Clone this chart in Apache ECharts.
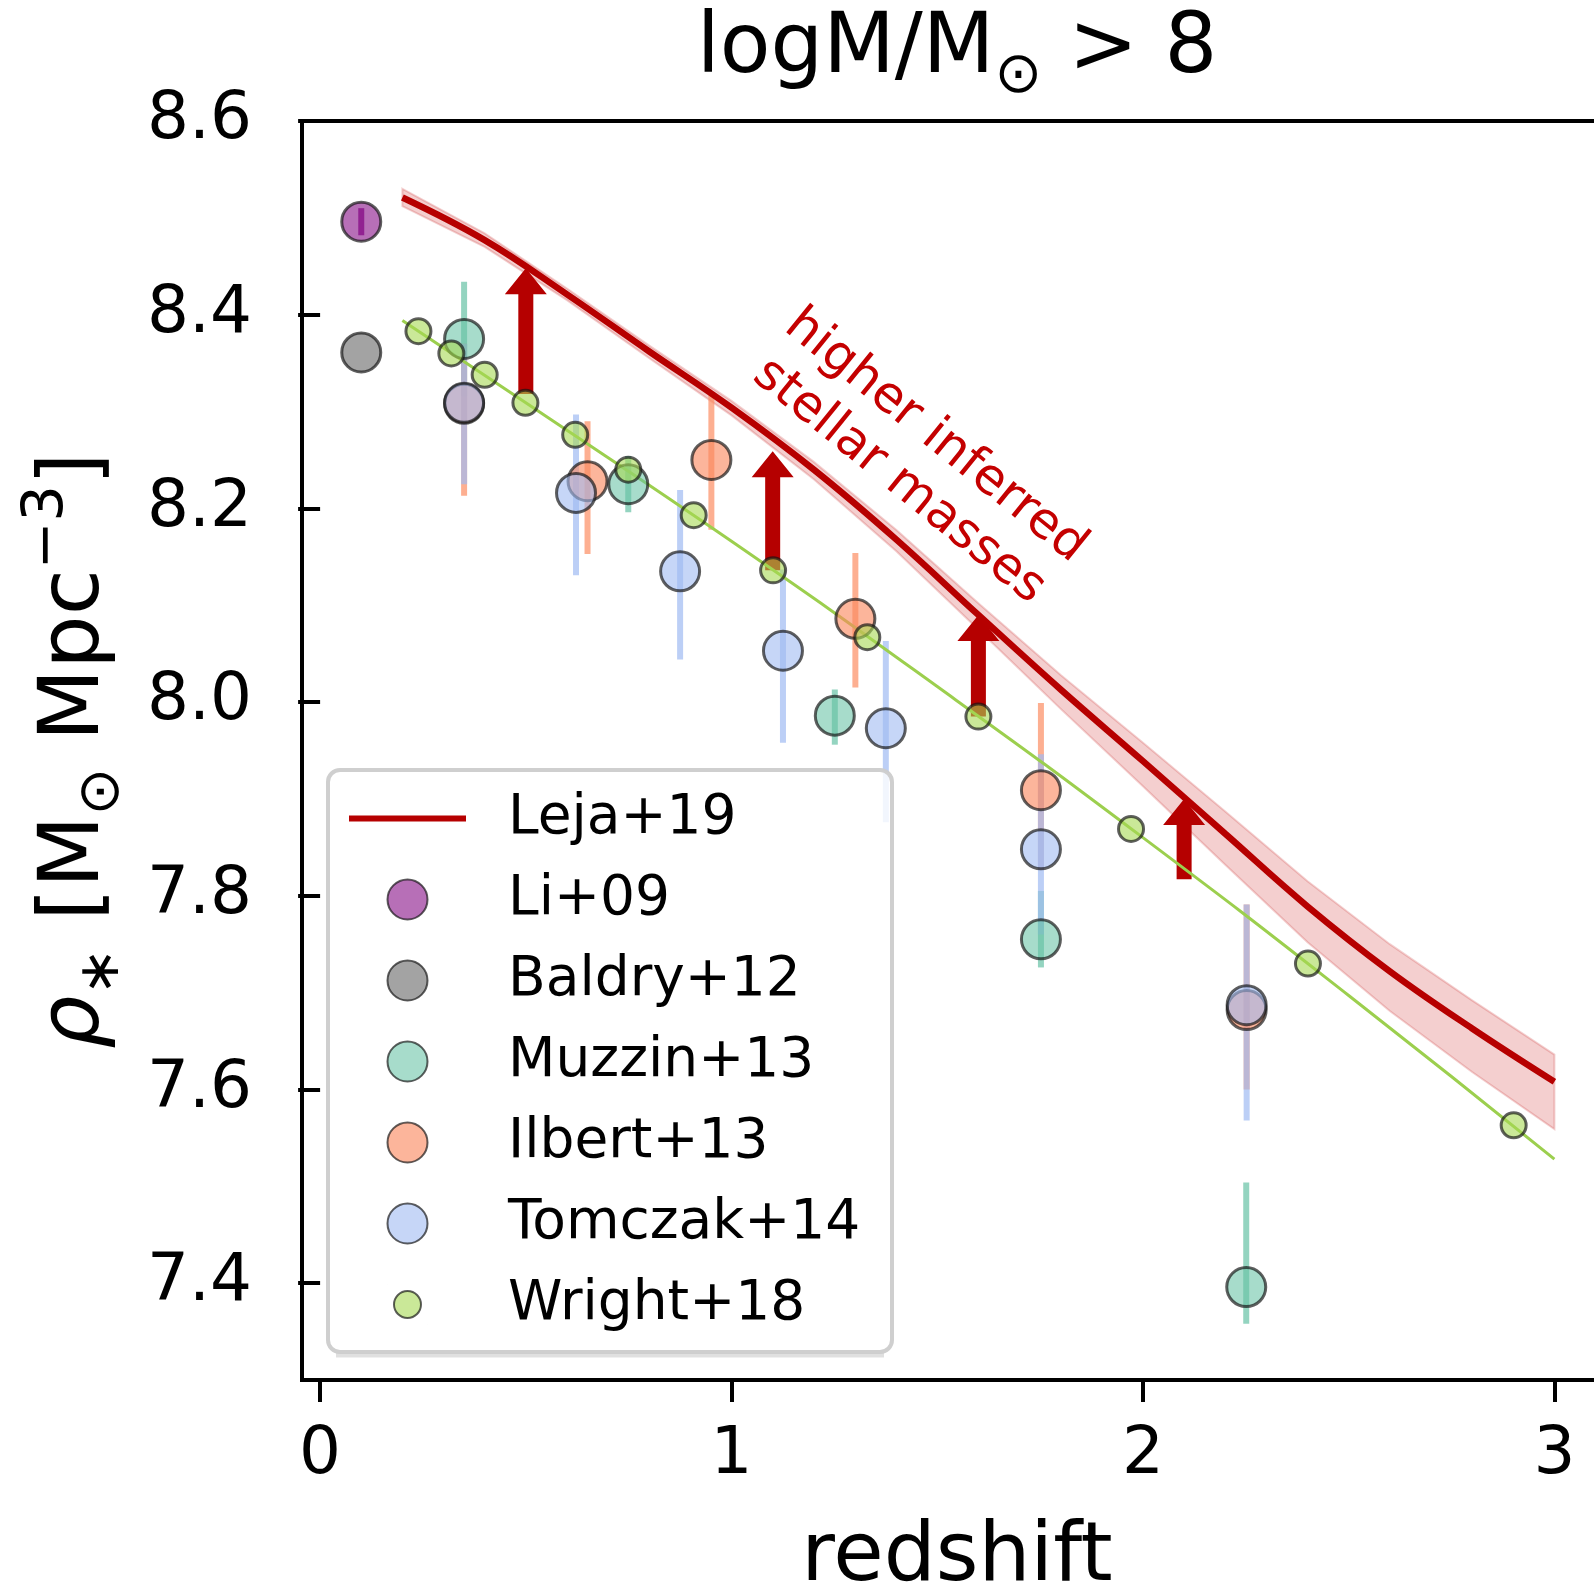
<!DOCTYPE html>
<html><head><meta charset="utf-8">
<script src="https://cdn.jsdelivr.net/npm/echarts@6/dist/echarts.min.js"></script>
<style>html,body{margin:0;padding:0;background:#fff}#c{width:1594px;height:1590px}</style>
</head><body><div id="c"></div>
<script>
// ---------- data ----------
const X_TICKS = [0, 1, 2, 3];
const Y_TICKS = [7.4, 7.6, 7.8, 8.0, 8.2, 8.4, 8.6];

const lejaX  = [0.2, 0.4, 0.6, 0.8, 1.0, 1.2, 1.4, 1.6, 1.8, 2.0, 2.2, 2.4, 2.6, 2.8, 3.0];
const lejaY  = [8.521, 8.477, 8.421, 8.362, 8.304, 8.240, 8.168, 8.090, 8.013, 7.939, 7.864, 7.789, 7.722, 7.663, 7.608];
const lejaHi = [8.530, 8.484, 8.427, 8.368, 8.311, 8.248, 8.178, 8.102, 8.028, 7.958, 7.887, 7.815, 7.750, 7.692, 7.636];
const lejaLo = [8.512, 8.470, 8.415, 8.355, 8.296, 8.230, 8.156, 8.075, 7.993, 7.913, 7.832, 7.752, 7.681, 7.618, 7.559];

const wrightFitX = [0.2, 0.5, 1.0, 1.5, 2.0, 2.5, 3.0];
const wrightFitY = [8.394, 8.309, 8.166, 8.016, 7.860, 7.697, 7.528];

const liX = [0.1], liY = [8.496], liLo = [8.482], liHi = [8.510];
const baldryX = [0.1], baldryY = [8.361];

const muzzinX  = [0.35, 0.749, 1.251, 1.752, 2.251];
const muzzinY  = [8.375, 8.225, 7.986, 7.755, 7.396];
const muzzinLo = [8.316, 8.196, 7.956, 7.726, 7.358];
const muzzinHi = [8.434, 8.254, 8.013, 7.805, 7.504];

const ilbertX  = [0.35, 0.650, 0.951, 1.301, 1.752, 2.252];
const ilbertY  = [8.308, 8.228, 8.250, 8.086, 7.909, 7.682];
const ilbertLo = [8.213, 8.153, 8.178, 8.015, 7.827, 7.600];
const ilbertHi = [8.370, 8.290, 8.317, 8.154, 7.999, 7.791];

const tomczakX  = [0.35, 0.622, 0.875, 1.125, 1.375, 1.752, 2.252];
const tomczakY  = [8.309, 8.216, 8.135, 8.053, 7.973, 7.848, 7.687];
const tomczakLo = [8.225, 8.131, 8.044, 7.958, 7.876, 7.760, 7.568];
const tomczakHi = [8.370, 8.297, 8.219, 8.137, 8.063, 7.946, 7.791];

const wrightX = [0.239, 0.319, 0.400, 0.499, 0.620, 0.749, 0.908, 1.101, 1.330, 1.600, 1.971, 2.401, 2.901];
const wrightY = [8.383, 8.360, 8.338, 8.309, 8.276, 8.240, 8.193, 8.136, 8.067, 7.985, 7.869, 7.730, 7.563];

const arrowX    = [0.5, 1.1, 1.6, 2.1];
const arrowFrom = [8.318, 8.136, 7.985, 7.817];
const arrowTo   = [8.448, 8.259, 8.090, 7.900];

const legendNames = ['Leja+19', 'Li+09', 'Baldry+12', 'Muzzin+13', 'Ilbert+13', 'Tomczak+14', 'Wright+18'];
const annotText = 'higher inferred\nstellar masses';
const annotAt = [1.451, 8.251];

// ---------- helpers ----------
const FONT = 'DejaVu Sans';
const zip2 = (a, b) => a.map((v, i) => [v, b[i]]);
const zip3 = (a, b, c) => a.map((v, i) => [v, b[i], c[i]]);
const EDGE = 'rgba(20,20,20,0.85)';

function errRender(color) {
  return function (params, api) {
    const p0 = api.coord([api.value(0), api.value(1)]);
    const p1 = api.coord([api.value(0), api.value(2)]);
    return { type: 'line', shape: { x1: p0[0], y1: p0[1], x2: p1[0], y2: p1[1] },
             style: { stroke: color, lineWidth: 6 } };
  };
}
function errSeries(name, xs, lo, hi, color) {
  return { type: 'custom', name: name, data: zip3(xs, lo, hi), encode: { x: 0, y: [1, 2] },
           renderItem: errRender(color), silent: true, z: 2 };
}
function scatterSeries(name, xs, ys, fill, size) {
  return { type: 'scatter', name: name, data: zip2(xs, ys), symbol: 'circle', symbolSize: size,
           itemStyle: { color: fill, borderColor: EDGE, borderWidth: 3 }, silent: true, z: 2 };
}

const legendData = legendNames.map(n => {
  if (n === 'Leja+19') return { name: n, icon: 'path://M0,0L117,0L117,6L0,6Z', itemStyle: { borderWidth: 0 } };
  if (n === 'Wright+18') return { name: n,
    icon: 'path://M0,0L0.01,0M40,40L40.01,40M33.5,20A13.5,13.5,0,1,1,6.5,20A13.5,13.5,0,1,1,33.5,20Z' };
  return { name: n };
});

const chart = echarts.init(document.getElementById('c'));

const option = {
  animation: false,
  backgroundColor: '#fff',
  grid: { left: 302, top: 121, width: 1310, height: 1259, show: true, borderColor: '#000',
          borderWidth: 4, backgroundColor: 'transparent', outerBoundsMode: 'none', containLabel: false },
  xAxis: {
    type: 'value', min: -0.044, max: 3.14,
    axisLine: { show: false }, splitLine: { show: false },
    axisTick: { show: true, length: 22, lineStyle: { color: '#000', width: 4 }, customValues: X_TICKS },
    axisLabel: { customValues: X_TICKS, fontSize: 66, fontFamily: FONT, color: '#000', margin: 76,
                 verticalAlign: 'middle', lineHeight: 66 },
    name: 'redshift', nameLocation: 'middle', nameGap: 179,
    nameTextStyle: { fontSize: 82, fontFamily: FONT, color: '#000', verticalAlign: 'middle', lineHeight: 82 }
  },
  yAxis: {
    type: 'value', min: 7.3, max: 8.6,
    axisLine: { show: false }, splitLine: { show: false },
    axisTick: { show: true, length: 22, lineStyle: { color: '#000', width: 4 }, customValues: Y_TICKS },
    axisLabel: { customValues: Y_TICKS, fontSize: 66, fontFamily: FONT, color: '#000', margin: 50,
                 formatter: v => v.toFixed(1) },
    name: '{i|ρ}{s|∗}{n| [M}{s|⊙}{n| Mpc}{p|−3}{n|]}',
    nameLocation: 'middle', nameRotate: 90, nameGap: 226,
    nameTextStyle: {
      align: 'center', verticalAlign: 'middle', color: '#000', fontFamily: FONT, fontSize: 84,
      rich: {
        n: { fontSize: 84, fontFamily: FONT, color: '#000', lineHeight: 112, verticalAlign: 'middle' },
        i: { fontSize: 84, fontFamily: FONT, color: '#000', fontStyle: 'italic', lineHeight: 112, verticalAlign: 'middle' },
        s: { fontSize: 57, fontFamily: FONT, color: '#000', lineHeight: 57, verticalAlign: 'bottom' },
        p: { fontSize: 57, fontFamily: FONT, color: '#000', lineHeight: 57, verticalAlign: 'top' }
      }
    }
  },
  legend: {
    data: legendData,
    orient: 'vertical', left: 344, top: 786, itemWidth: 117, itemHeight: 40, itemGap: 26,
    selectedMode: false, z: 5, padding: 5,
    formatter: '{t|{name}}',
    textStyle: { fontSize: 55, fontFamily: FONT, color: '#000',
      rich: { t: { fontSize: 55, fontFamily: FONT, color: '#000', padding: [0, 0, 0, 37] } } }
  },
  series: [
    { type: 'custom', name: 'Leja+19 band', data: zip3(lejaX, lejaLo, lejaHi), encode: { x: 0, y: [1, 2] },
      silent: true, z: 2,
      renderItem: function (params, api) {
        if (params.dataIndex !== 0) return null;
        const pts = [];
        for (let i = 0; i < lejaX.length; i++) pts.push(api.coord([lejaX[i], lejaHi[i]]));
        for (let i = lejaX.length - 1; i >= 0; i--) pts.push(api.coord([lejaX[i], lejaLo[i]]));
        return { type: 'polygon', shape: { points: pts },
                 style: { fill: 'rgba(214,70,70,0.26)', stroke: 'rgba(200,40,40,0.22)', lineWidth: 2 } };
      } },
    { type: 'line', name: 'Leja+19', data: zip2(lejaX, lejaY), symbol: 'none', showSymbol: false, smooth: 0.4,
      lineStyle: { color: '#b60000', width: 6.5 }, itemStyle: { color: '#b60000' }, silent: true, z: 2 },
    { type: 'custom', name: 'arrows', data: zip3(arrowX, arrowFrom, arrowTo), encode: { x: 0, y: [1, 2] },
      silent: true, z: 2,
      renderItem: function (params, api) {
        const x = api.value(0);
        const a = api.coord([x, api.value(1)]);
        const b = api.coord([x, api.value(2)]);
        const sw = 7.5, hw = 21, hl = 26;
        return { type: 'polygon', shape: { points: [
          [a[0] - sw, a[1]], [a[0] - sw, b[1] + hl], [a[0] - hw, b[1] + hl], [b[0], b[1]],
          [a[0] + hw, b[1] + hl], [a[0] + sw, b[1] + hl], [a[0] + sw, a[1]] ] },
          style: { fill: '#b50000' } };
      } },
    errSeries('Li+09 err', liX, liLo, liHi, 'rgba(128,0,128,0.75)'),
    scatterSeries('Li+09', liX, liY, 'rgba(135,15,135,0.75)', 39),
    scatterSeries('Baldry+12', baldryX, baldryY, 'rgba(102,102,102,0.75)', 39),
    errSeries('Muzzin+13 err', muzzinX, muzzinLo, muzzinHi, 'rgba(102,194,165,0.7)'),
    scatterSeries('Muzzin+13', muzzinX, muzzinY, 'rgba(102,194,165,0.72)', 39),
    errSeries('Ilbert+13 err', ilbertX, ilbertLo, ilbertHi, 'rgba(252,141,98,0.7)'),
    scatterSeries('Ilbert+13', ilbertX, ilbertY, 'rgba(250,136,94,0.78)', 39),
    errSeries('Tomczak+14 err', tomczakX, tomczakLo, tomczakHi, 'rgba(160,186,242,0.7)'),
    scatterSeries('Tomczak+14', tomczakX, tomczakY, 'rgba(160,186,242,0.75)', 39),
    { type: 'line', name: 'Wright+18 fit', data: zip2(wrightFitX, wrightFitY), symbol: 'none', showSymbol: false,
      smooth: true, lineStyle: { color: '#9ccf4e', width: 3 }, silent: true, z: 2 },
    scatterSeries('Wright+18', wrightX, wrightY, 'rgba(166,216,84,0.75)', 25)
  ]
};
chart.setOption(option);

const ap = chart.convertToPixel({ gridIndex: 0 }, annotAt);
chart.setOption({
  graphic: [
    { type: 'polyline', id: 'legendShadow', z: 3,
      shape: { points: [[336, 1355], [884, 1355]] },
      style: { stroke: 'rgba(0,0,0,0.12)', lineWidth: 5, fill: null } },
    { type: 'rect', id: 'legendBox', z: 3, shape: { x: 328, y: 770, width: 564, height: 582, r: 12 },
      style: { fill: 'rgba(255,255,255,0.8)', stroke: 'rgba(204,204,204,0.95)', lineWidth: 4 } },
    { type: 'text', id: 'title', z: 6, x: 957, y: 50,
      style: { text: '{n|logM/M}{s|⊙}{n| > 8}', align: 'center', verticalAlign: 'middle',
        rich: {
          n: { fontSize: 83, fontFamily: FONT, fill: '#000', lineHeight: 112, verticalAlign: 'middle' },
          s: { fontSize: 57, fontFamily: FONT, fill: '#000', lineHeight: 57, verticalAlign: 'bottom' }
        } } },
    { type: 'text', id: 'annot', z: 6, x: ap[0], y: ap[1], rotation: -39 * Math.PI / 180,
      style: { text: annotText, fontSize: 50, fontFamily: FONT, fill: '#c40000', align: 'center',
               verticalAlign: 'middle', lineHeight: 58 } }
  ]
});
</script>
</body></html>
